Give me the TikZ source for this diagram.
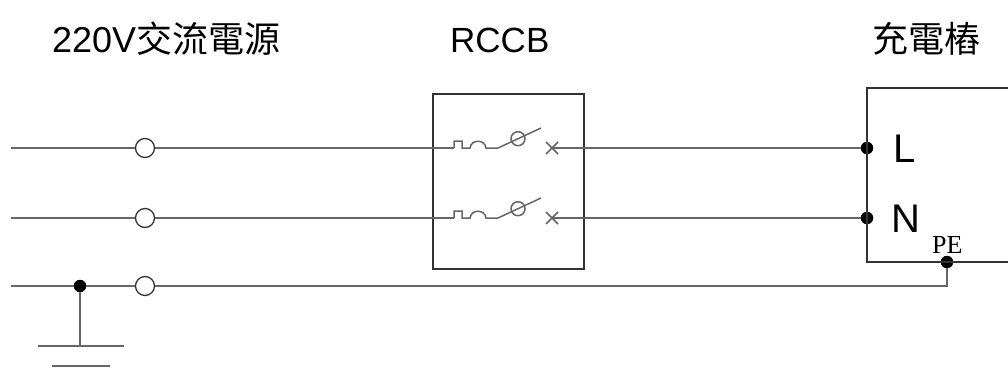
\documentclass[tikz,border=0pt]{standalone}
\usepackage{fontspec}
\setmainfont{Liberation Sans}
\newfontfamily\cjk{Noto Sans CJK TC}
\newfontfamily\peserif{Liberation Serif}
\tikzset{
  wire/.style={black!60,line width=1.5pt},
  box/.style={black!80,line width=1.3pt},
  term/.style={circle,draw=black!80,line width=1.3pt,minimum size=19pt,inner sep=0pt},
  dot/.style={circle,fill=black,minimum size=12.5pt,inner sep=0pt},
  title/.style={anchor=base west,inner sep=0pt}
}
\begin{document}
\begin{tikzpicture}[x=1pt,y=-1pt]
\useasboundingbox (0,0) rectangle (1008,383);

% titles
\node[title] (srclabel) at (52,52) {\fontsize{36}{40}\selectfont 220V\cjk 交流電源};
\node[title] (rccblabel) at (450,52) {\fontsize{35}{40}\selectfont RCCB};
\node[title] (chglabel) at (872,52) {\fontsize{36}{40}\selectfont\cjk 充電樁};

% source side
\coordinate (a1) at (11,148);
\coordinate (a2) at (11,218);
\coordinate (a3) at (11,286);
\node[term] (t1) at (145,148) {};
\node[term] (t2) at (145,218) {};
\node[term] (t3) at (145,286) {};
\node[dot] (dG) at (80,286) {};
\coordinate (g1) at (80,346);

% charger side
\node[dot] (dL) at (867,148) {};
\node[dot] (dN) at (867,218) {};
\node[dot] (dPE) at (947,262) {};
\coordinate (p3) at (947,286);
\node[anchor=base west,inner sep=0pt] (lL) at (893,162) {\fontsize{40}{44}\selectfont L};
\node[anchor=base west,inner sep=0pt] (lN) at (891,232) {\fontsize{40}{44}\selectfont N};
\node[anchor=base west,inner sep=0pt] (lPE) at (932,253) {\fontsize{26}{30}\selectfont\peserif PE};

% RCCB box
\draw[box] (433,94) rectangle (584,269);
\coordinate (k1) at (454,148);
\coordinate (k2) at (454,218);
\coordinate (x1) at (552,148);
\coordinate (x2) at (552,218);

% L line
\draw[wire] (a1) -- (t1) -- (k1);
\draw[wire] (k1) -- (454,141) -- (462,141) -- (462,148) -- (470,148)
            .. controls (471,139) and (485,139) .. (486,148) -- (498,148) -- (541,128);
\draw[wire] (518,138.7) circle[radius=7pt];
\draw[wire] (546,142) -- (558,154) (546,154) -- (558,142);
\draw[wire] (x1) -- (dL);

% N line
\draw[wire] (a2) -- (t2) -- (k2);
\draw[wire] (k2) -- (454,211) -- (462,211) -- (462,218) -- (470,218)
            .. controls (471,209) and (485,209) .. (486,218) -- (498,218) -- (541,198);
\draw[wire] (518,208.7) circle[radius=7pt];
\draw[wire] (546,212) -- (558,224) (546,224) -- (558,212);
\draw[wire] (x2) -- (dN);

% PE line and ground
\draw[wire] (a3) -- (dG) -- (t3) -- (p3) -- (dPE);
\draw[wire] (dG) -- (g1);
\draw[wire] (38,346) -- (124,346)
            (52,366) -- (110,366);

% charger box
\draw[box] (1010,88) -- (867,88) -- (867,262) -- (1010,262);

\end{tikzpicture}
\end{document}
